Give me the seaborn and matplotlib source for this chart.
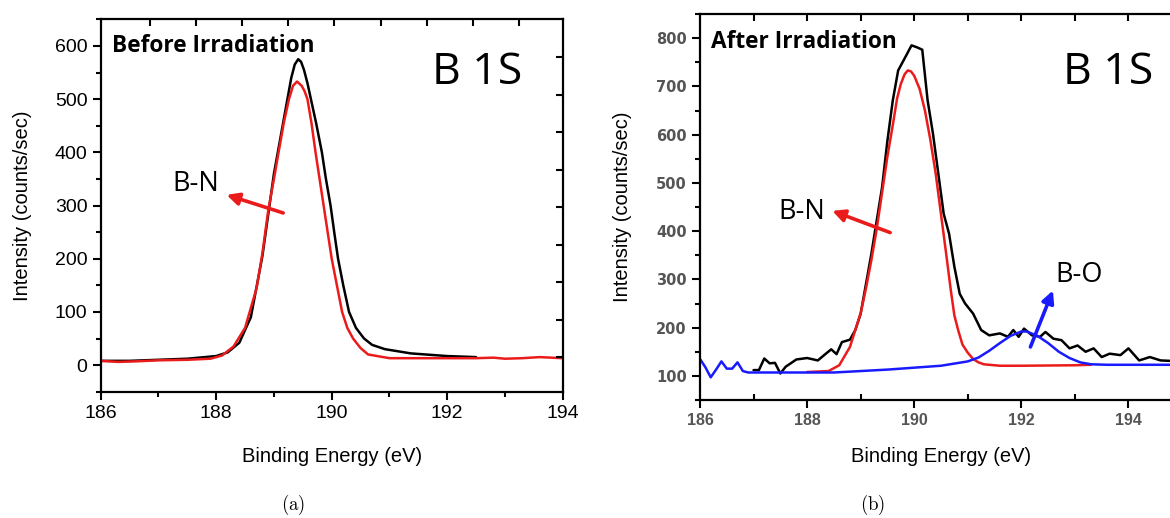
import numpy as np
import pandas as pd
import matplotlib
matplotlib.use("Agg")
import matplotlib.pyplot as plt
import seaborn as sns

# B 1s XPS spectra
# (a) before irradiation
energy_a_raw = [186.0, 186.5, 187.0, 187.5, 187.8, 188.0, 188.2, 188.4, 188.6, 188.8,
                189.0, 189.1, 189.2, 189.3, 189.36, 189.42, 189.47, 189.52, 189.58, 189.64,
                189.73, 189.83, 189.9, 189.98, 190.05, 190.11, 190.2, 190.3, 190.42, 190.56,
                190.7, 190.92, 191.37, 192.0, 192.5]
counts_a_raw = [8, 8, 10, 12, 15, 17, 24, 42, 90, 205,
                360, 420, 480, 540, 565, 575, 570, 555, 530, 500,
                455, 400, 350, 300, 245, 200, 150, 100, 70, 50,
                38, 30, 22, 17, 15]

energy_a_fit = [186.0, 186.3, 186.6, 187.0, 187.5, 187.9, 188.1, 188.3, 188.5, 188.7,
                188.8, 188.9, 189.0, 189.08, 189.17, 189.26, 189.33, 189.4, 189.48, 189.53,
                189.58, 189.65, 189.72, 189.79, 189.86, 189.93, 190.0, 190.09, 190.18, 190.27,
                190.37, 190.5, 190.63, 191.0, 191.5, 192.0, 192.5, 192.8, 193.0, 193.3,
                193.6, 193.8, 194.0]
counts_a_fit = [8, 6, 7, 9, 10, 12, 18, 35, 70, 145,
                210, 290, 350, 400, 455, 500, 525, 533, 525, 515,
                500, 455, 400, 350, 300, 250, 200, 150, 100, 70,
                50, 32, 20, 13, 13, 13, 13, 14, 12, 13,
                15, 14, 13]

# (b) after irradiation
energy_b_raw = [187.0, 187.1, 187.2, 187.3, 187.4, 187.5, 187.6, 187.8, 188.0, 188.2,
                188.35, 188.45, 188.55, 188.65, 188.8, 188.9, 189.0, 189.1, 189.2, 189.3,
                189.4, 189.5, 189.6, 189.7, 189.85, 189.95, 190.05, 190.15, 190.25, 190.35,
                190.45, 190.55, 190.65, 190.75, 190.85, 190.95, 191.1, 191.25, 191.4, 191.6,
                191.75, 191.85, 191.95, 192.05, 192.2, 192.35, 192.45, 192.6, 192.75, 192.9,
                193.05, 193.2, 193.35, 193.5, 193.65, 193.85, 194.0, 194.2, 194.4, 194.6,
                194.8, 195.0]
counts_b_raw = [112, 112, 136, 126, 127, 105, 119, 134, 137, 132,
                146, 155, 145, 170, 175, 195, 229, 291, 353, 422,
                491, 588, 671, 733, 764, 785, 781, 776, 671, 602,
                519, 436, 395, 326, 270, 250, 229, 195, 184, 188,
                181, 195, 181, 198, 184, 181, 191, 177, 174, 157,
                163, 150, 157, 139, 146, 143, 157, 132, 139, 132,
                131, 132]

energy_b_bn = [188.0, 188.4, 188.6, 188.8, 189.0, 189.1, 189.2, 189.3, 189.4, 189.5,
               189.6, 189.68, 189.75, 189.82, 189.88, 189.94, 190.0, 190.1, 190.2, 190.3,
               190.4, 190.5, 190.6, 190.68, 190.75, 190.82, 190.9, 191.0, 191.1, 191.2,
               191.3, 191.6, 192.0, 193.0, 193.3]
counts_b_bn = [108, 110, 122, 160, 230, 282, 340, 405, 480, 555,
               620, 675, 705, 725, 733, 731, 722, 695, 650, 590,
               520, 435, 350, 280, 225, 195, 165, 148, 135, 128,
               124, 121, 121, 122, 123]

energy_b_bo = [186.0, 186.1, 186.2, 186.3, 186.4, 186.5, 186.6, 186.7, 186.8, 186.9,
               187.5, 188.5, 189.0, 189.5, 190.0, 190.5, 191.0, 191.2, 191.4, 191.6,
               191.8, 192.0, 192.1, 192.3, 192.5, 192.7, 192.9, 193.1, 193.3, 193.6,
               195.0]
counts_b_bo = [135, 118, 97, 113, 130, 115, 115, 128, 110, 107,
               107, 107, 110, 113, 117, 121, 130, 138, 152, 168,
               183, 192, 192, 183, 168, 150, 137, 128, 124, 123,
               123]

x_ticks = [186, 188, 190, 192, 194]
y_ticks_a = [0, 100, 200, 300, 400, 500, 600]
y_ticks_b = [100, 200, 300, 400, 500, 600, 700, 800]

sns.set_theme(style="ticks", rc={"text.color": "black", "axes.labelcolor": "black",
                                 "xtick.color": "black", "ytick.color": "black"})
plt.rcParams["font.family"] = ["Liberation Sans", "DejaVu Sans"]
plt.rcParams["mathtext.fontset"] = "cm"

RED = "#ec1b1b"
BLUE = "#1a1aff"
TEXT_FONT = ["Open Sans", "DejaVu Sans"]

fig = plt.figure(figsize=(11.7, 5.18), dpi=100)
ax_a = fig.add_axes([100.7 / 1170, 1 - 391.7 / 518, 462 / 1170, 372.4 / 518])
ax_b = fig.add_axes([700 / 1170, 1 - 400 / 518, 482 / 1170, 386 / 518])


def draw(ax, x, y, color):
    df = pd.DataFrame({"E": x, "I": y})
    sns.lineplot(data=df, x="E", y="I", ax=ax, color=color, lw=1.8,
                 estimator=None, sort=False)


def style_axes(ax):
    for s in ax.spines.values():
        s.set_linewidth(1.6)
        s.set_color("black")
    ax.tick_params(axis="both", which="major", direction="out", length=6, width=1.5,
                   top=False, right=False)
    ax.tick_params(axis="both", which="minor", direction="out", length=3.5, width=1.5,
                   top=False, right=False)
    ax.set_xlabel("Binding Energy (eV)", fontsize=14.5)
    ax.set_ylabel("Intensity (counts/sec)", fontsize=14.5)


def inner_ticks(ax, xfrac, yfrac):
    # mirrored inward ticks on top/right, spaced like the original plot
    if yfrac is not None:
        tw = ax.twinx()
        tw.set_ylim(0, 1)
        tw.set_yticks(yfrac)
        tw.tick_params(axis="y", direction="in", length=5, width=1.5, labelright=False)
        for s in tw.spines.values():
            s.set_visible(False)
    tt = ax.twiny()
    tt.set_xlim(0, 1)
    tt.set_xticks(xfrac)
    tt.tick_params(axis="x", direction="in", length=5, width=1.5, labeltop=False)
    for s in tt.spines.values():
        s.set_visible(False)


# ---- panel (a) ----
draw(ax_a, energy_a_raw, counts_a_raw, "black")
draw(ax_a, energy_a_fit, counts_a_fit, RED)
ax_a.set_xlim(186, 194)
ax_a.set_ylim(-50, 650)
ax_a.set_xticks(x_ticks)
ax_a.set_xticks(np.arange(186, 195, 1), minor=True)
ax_a.set_yticks(y_ticks_a)
ax_a.set_yticks(np.arange(-50, 651, 50), minor=True)
style_axes(ax_a)
ax_a.tick_params(axis="both", labelsize=14)
ax_a.yaxis.set_label_coords(-0.149, 0.5)
ax_a.xaxis.set_label_coords(0.5, -0.148)
inner_ticks(ax_a, [0.106 + 0.1 * k for k in range(9)],
            [0.093 + 0.1007 * k for k in range(9)])

ax_a.text(186.19, 599, "Before Irradiation", fontsize=16.3, fontweight="bold",
          family=TEXT_FONT, va="center", ha="left")
ax_a.text(192.52, 549, "B 1S", fontsize=32, family=TEXT_FONT, va="center", ha="center")
ax_a.text(187.65, 340, "B-N", fontsize=19.5, family=TEXT_FONT, va="center", ha="center")
ax_a.annotate("", xy=(188.18, 320), xytext=(189.16, 286),
              arrowprops=dict(arrowstyle="-|>", color=RED, lw=2.6, mutation_scale=18,
                              shrinkA=0, shrinkB=0))

# ---- panel (b) ----
draw(ax_b, energy_b_raw, counts_b_raw, "black")
draw(ax_b, energy_b_bn, counts_b_bn, RED)
draw(ax_b, energy_b_bo, counts_b_bo, BLUE)
ax_b.set_xlim(186, 195)
ax_b.set_ylim(50, 850)
ax_b.set_xticks(x_ticks)
ax_b.set_xticks(np.arange(187, 196, 2), minor=True)
ax_b.set_yticks(y_ticks_b)
ax_b.set_yticks(np.arange(50, 851, 50), minor=True)
style_axes(ax_b)
ax_b.tick_params(axis="x", which="minor", direction="in", length=4)
for lab in ax_b.get_yticklabels():
    lab.set_fontfamily(["DejaVu Sans"])
    lab.set_fontweight("bold")
    lab.set_fontsize(10.5)
    lab.set_color("#555555")
for lab in ax_b.get_xticklabels():
    lab.set_fontfamily(["Liberation Sans Narrow", "Liberation Sans"])
    lab.set_fontweight("bold")
    lab.set_fontsize(11.5)
    lab.set_color("#555555")
ax_b.yaxis.set_label_coords(-0.141, 0.5)
ax_b.xaxis.set_label_coords(0.5, -0.122)
inner_ticks(ax_b, [k / 9 for k in range(1, 9)], None)

ax_b.text(186.21, 791, "After Irradiation", fontsize=16.3, fontweight="bold",
          family=TEXT_FONT, va="center", ha="left")
ax_b.text(193.62, 729, "B 1S", fontsize=32, family=TEXT_FONT, va="center", ha="center")
ax_b.text(187.9, 440, "B-N", fontsize=19.5, family=TEXT_FONT, va="center", ha="center")
ax_b.text(193.07, 310, "B-O", fontsize=19.5, family=TEXT_FONT, va="center", ha="center")
ax_b.annotate("", xy=(188.47, 442), xytext=(189.55, 397),
              arrowprops=dict(arrowstyle="-|>", color=RED, lw=2.6, mutation_scale=18,
                              shrinkA=0, shrinkB=0))
ax_b.annotate("", xy=(192.59, 277), xytext=(192.17, 160),
              arrowprops=dict(arrowstyle="-|>", color=BLUE, lw=2.6, mutation_scale=18,
                              shrinkA=0, shrinkB=0))

fig.text(293 / 1170, 1 - 505 / 518, r"$\mathrm{(a)}$", fontsize=13.5, ha="center", va="center")
fig.text(873 / 1170, 1 - 505 / 518, r"$\mathrm{(b)}$", fontsize=13.5, ha="center", va="center")

fig.savefig("out.png", dpi=100)
